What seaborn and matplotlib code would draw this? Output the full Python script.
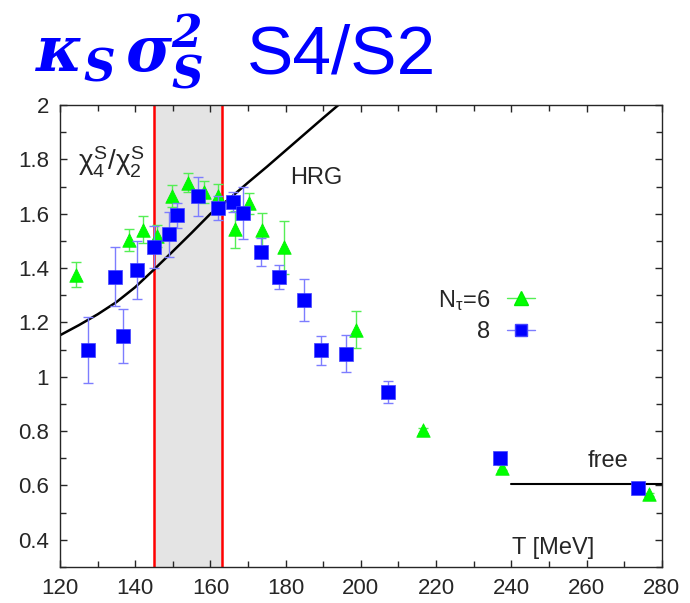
import numpy as np
import pandas as pd
import matplotlib
matplotlib.use("Agg")
import matplotlib.pyplot as plt
from matplotlib.lines import Line2D
from matplotlib.ticker import MultipleLocator, FormatStrFormatter
import seaborn as sns

# N_tau = 6 (green triangles)
t6 = [124.2, 138.4, 142.0, 145.9, 149.7, 153.9, 158.3, 162.1, 166.5, 170.3, 173.8, 179.5, 198.6, 216.4, 237.6, 276.5]
v6 = [1.376, 1.503, 1.542, 1.517, 1.665, 1.715, 1.680, 1.666, 1.543, 1.638, 1.542, 1.476, 1.174, 0.803, 0.666, 0.567]
e6 = [0.047, 0.040, 0.050, 0.040, 0.040, 0.035, 0.040, 0.045, 0.068, 0.040, 0.062, 0.098, 0.067, 0.010, 0.008, 0.006]

# N_tau = 8 (blue squares)
t8 = [127.5, 134.6, 136.8, 140.4, 145.0, 149.0, 151.0, 156.8, 162.1, 165.9, 168.6, 173.4, 178.3, 184.8, 189.5, 196.0, 207.3, 237.0, 273.8]
v8 = [1.098, 1.368, 1.150, 1.392, 1.478, 1.524, 1.595, 1.665, 1.620, 1.644, 1.603, 1.460, 1.368, 1.282, 1.098, 1.085, 0.944, 0.702, 0.590]
e8 = [0.122, 0.108, 0.100, 0.107, 0.078, 0.083, 0.046, 0.072, 0.044, 0.037, 0.094, 0.052, 0.044, 0.077, 0.053, 0.068, 0.040, 0.010, 0.008]

# HRG curve
hrg_t = [120, 125, 130, 135, 140, 145, 150, 155, 160, 165, 170, 175, 180, 185, 190, 194]
hrg_v = [1.153, 1.19, 1.23, 1.275, 1.33, 1.395, 1.462, 1.530, 1.600, 1.655, 1.715, 1.773, 1.833, 1.893, 1.953, 2.0]

# free limit and crossover band
free_t = [240, 280]
free_v = [0.607, 0.607]
band = [145, 163]

sns.set_style("ticks")
plt.rcParams["font.family"] = ["Liberation Sans", "DejaVu Sans"]
plt.rcParams["mathtext.fontset"] = "custom"
plt.rcParams["mathtext.rm"] = "Liberation Sans"
plt.rcParams["mathtext.it"] = "Liberation Sans"
plt.rcParams["mathtext.sf"] = "Liberation Sans"
plt.rcParams["mathtext.bf"] = "DejaVu Serif:italic:bold"

fig = plt.figure(figsize=(6.9, 6.03), dpi=100)
ax = fig.add_axes([0.087, 0.0597, 0.872, 0.766])

ax.axvspan(band[0], band[1], color="#e4e4e4", zorder=0, lw=0)
for b in band:
    ax.axvline(b, color="#ff0000", lw=1.8, zorder=1)

sns.lineplot(x=hrg_t, y=hrg_v, color="black", lw=1.8, sort=False, ax=ax, zorder=2)
sns.lineplot(x=free_t, y=free_v, color="black", lw=1.5, ax=ax, zorder=2)

ax.errorbar(t6, v6, yerr=e6, fmt="none", ecolor="#55ee55", elinewidth=1, capsize=3.5, zorder=3)
ax.errorbar(t8, v8, yerr=e8, fmt="none", ecolor="#7d7dff", elinewidth=1, capsize=3.5, zorder=4)

df6 = pd.DataFrame({"T": t6, "v": v6})
df8 = pd.DataFrame({"T": t8, "v": v8})
sns.scatterplot(data=df6, x="T", y="v", marker="^", s=95, color="#00ff00", edgecolor="#00ee00",
                linewidth=0.5, ax=ax, zorder=3)
sns.scatterplot(data=df8, x="T", y="v", marker="s", s=90, color="#0000ff", edgecolor="#4444ff",
                linewidth=0.5, ax=ax, zorder=5)

ax.set_xlim(120, 280)
ax.set_ylim(0.3, 2.0)
ax.xaxis.set_major_locator(MultipleLocator(20))
ax.xaxis.set_minor_locator(MultipleLocator(10))
ax.yaxis.set_major_locator(MultipleLocator(0.2))
ax.yaxis.set_minor_locator(MultipleLocator(0.1))
ax.yaxis.set_major_formatter(FormatStrFormatter("%g"))
ax.tick_params(which="both", direction="in", top=True, right=True, labelsize=16, width=1, pad=8)
ax.tick_params(which="major", length=5)
ax.tick_params(which="minor", length=4)
for s in ax.spines.values():
    s.set_linewidth(1)
ax.set_xlabel("")
ax.set_ylabel("")

ax.text(124.8, 1.79, r"$\chi_4^S/\chi_2^S$", fontsize=20, va="center", ha="left")
ax.text(181.2, 1.73, "HRG", fontsize=17, va="center", ha="left")
ax.text(260.2, 0.69, "free", fontsize=17, va="center", ha="left")
ax.text(240.2, 0.37, "T [MeV]", fontsize=17, va="center", ha="left")

h6 = Line2D([], [], color="#55ee55", lw=1, marker="^", ms=10, mfc="#00ff00", mec="#00ee00")
h8 = Line2D([], [], color="#7d7dff", lw=1, marker="s", ms=9, mfc="#0000ff", mec="#4444ff")
ax.legend([h6, h8], [r"N$_{\tau}$=6", "8"], markerfirst=False, frameon=False, fontsize=17,
          loc="center right", bbox_to_anchor=(0.79, 0.545), borderpad=0, borderaxespad=0,
          handlelength=1.2, handletextpad=0.7, labelspacing=0.35)

fig.text(35 / 690, 1 - 72 / 603, r"$\mathbf{\kappa_S\,\sigma_S^2}$", fontsize=45, color="#0000ff",
         va="baseline", ha="left")
fig.text(247 / 690, 1 - 74 / 603, "S4/S2", fontsize=50, color="#0000ff", va="baseline", ha="left")

fig.savefig("out.png", dpi=100)
